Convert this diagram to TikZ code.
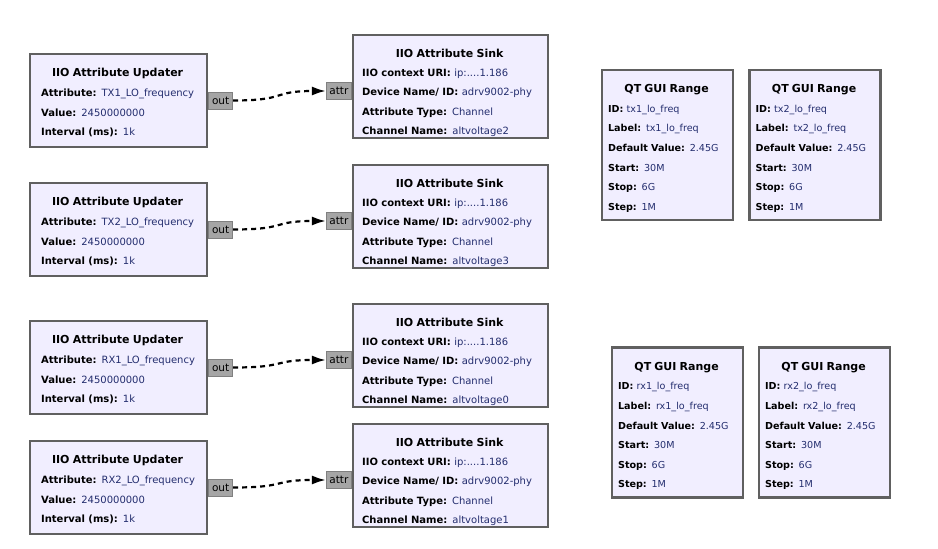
\documentclass[tikz,border=0pt]{standalone}
\usepackage{fontspec}
\setmainfont{DejaVu Sans}
\usetikzlibrary{arrows.meta,positioning}
\definecolor{blockfill}{RGB}{241,238,255}
\definecolor{blockline}{RGB}{96,96,96}
\definecolor{portfill}{RGB}{165,165,165}
\definecolor{portline}{RGB}{128,128,128}
\definecolor{valblue}{RGB}{35,45,110}
\newcommand{\prm}[2]{\mbox{\textbf{#1:} \textcolor{valblue}{#2}}}
\newcommand{\blocktitle}[1]{{\centering\fontsize{11}{19.6}\selectfont\bfseries #1\par}}

\begin{document}
\begin{tikzpicture}[
  x=1pt, y=-1pt, font=\fontsize{10}{19.6}\selectfont,
  block/.style={draw=blockline, line width=2.2pt, fill=blockfill, inner sep=0pt},
  updater/.style={block, minimum width=177pt, minimum height=93pt},
  sink/.style={block, minimum width=195pt, minimum height=103pt},
  qtrange/.style={block, minimum width=131pt, minimum height=150pt},
  body/.style={inner sep=0pt, align=left},
  port/.style={draw=portline, fill=portfill, line width=1pt, inner sep=0pt,
    minimum height=17pt, font=\fontsize{10.5}{12}\selectfont},
  link/.style={-{Latex[length=14pt,width=9pt]}, line width=2.2pt,
    dash pattern=on 5pt off 4pt}]
\useasboundingbox (0,0) rectangle (938,549);
% attribute updaters
\node[updater] (upd1) at (118.5,100.5) {};
\node[body, text width=153pt, below right=15.5pt and 12pt of upd1.north west] (upd1t)
  {\blocktitle{IIO Attribute Updater}\prm{Attribute}{TX1\_LO\_frequency}\\
   \prm{Value}{2450000000}\\ \prm{Interval (ms)}{1k}};
\node[updater] (upd2) at (118.5,229.5) {};
\node[body, text width=153pt, below right=15.5pt and 12pt of upd2.north west] (upd2t)
  {\blocktitle{IIO Attribute Updater}\prm{Attribute}{TX2\_LO\_frequency}\\
   \prm{Value}{2450000000}\\ \prm{Interval (ms)}{1k}};
\node[updater] (upd3) at (118.5,367.5) {};
\node[body, text width=153pt, below right=15.5pt and 12pt of upd3.north west] (upd3t)
  {\blocktitle{IIO Attribute Updater}\prm{Attribute}{RX1\_LO\_frequency}\\
   \prm{Value}{2450000000}\\ \prm{Interval (ms)}{1k}};
\node[updater] (upd4) at (118.5,487.5) {};
\node[body, text width=153pt, below right=15.5pt and 12pt of upd4.north west] (upd4t)
  {\blocktitle{IIO Attribute Updater}\prm{Attribute}{RX2\_LO\_frequency}\\
   \prm{Value}{2450000000}\\ \prm{Interval (ms)}{1k}};
% attribute sinks
\node[sink] (snk1) at (450.5,86.5) {};
\node[body, text width=175pt, font=\fontsize{10}{19.2}\selectfont,
  below right=15pt and 10pt of snk1.north west] (snk1t)
  {\blocktitle{IIO Attribute Sink}\prm{IIO context URI}{ip:....1.186}\\
   \prm{Device Name/ ID}{adrv9002-phy}\\ \prm{Attribute Type}{Channel}\\
   \prm{Channel Name}{altvoltage2}};
\node[sink] (snk2) at (450.5,216.5) {};
\node[body, text width=175pt, font=\fontsize{10}{19.2}\selectfont,
  below right=15pt and 10pt of snk2.north west] (snk2t)
  {\blocktitle{IIO Attribute Sink}\prm{IIO context URI}{ip:....1.186}\\
   \prm{Device Name/ ID}{adrv9002-phy}\\ \prm{Attribute Type}{Channel}\\
   \prm{Channel Name}{altvoltage3}};
\node[sink] (snk3) at (450.5,355.5) {};
\node[body, text width=175pt, font=\fontsize{10}{19.2}\selectfont,
  below right=15pt and 10pt of snk3.north west] (snk3t)
  {\blocktitle{IIO Attribute Sink}\prm{IIO context URI}{ip:....1.186}\\
   \prm{Device Name/ ID}{adrv9002-phy}\\ \prm{Attribute Type}{Channel}\\
   \prm{Channel Name}{altvoltage0}};
\node[sink] (snk4) at (450.5,475.5) {};
\node[body, text width=175pt, font=\fontsize{10}{19.2}\selectfont,
  below right=15pt and 10pt of snk4.north west] (snk4t)
  {\blocktitle{IIO Attribute Sink}\prm{IIO context URI}{ip:....1.186}\\
   \prm{Device Name/ ID}{adrv9002-phy}\\ \prm{Attribute Type}{Channel}\\
   \prm{Channel Name}{altvoltage1}};
% ports and connections
\foreach \i in {1,...,4} {
  \node[port, minimum width=24pt, right=0pt of upd\i] (out\i) {out};
  \node[port, minimum width=25pt, left=0pt of snk\i.west, yshift=-4.5pt] (attr\i) {attr};
  \draw[link] (out\i.east) .. controls +(55,0) and +(-55,0) .. (attr\i.west);
}
% qt gui ranges
\node[qtrange] (rng1) at (667.5,145) {};
\node[body, text width=117pt, font=\fontsize{9.6}{19.6}\selectfont,
  below right=15.5pt and 7pt of rng1.north west] (rng1t)
  {\blocktitle{QT GUI Range}\prm{ID}{tx1\_lo\_freq}\\ \prm{Label}{tx1\_lo\_freq}\\
   \prm{Default Value}{2.45G}\\ \prm{Start}{30M}\\ \prm{Stop}{6G}\\ \prm{Step}{1M}};
\node[qtrange] (rng2) at (815,145) {};
\node[body, text width=117pt, font=\fontsize{9.6}{19.6}\selectfont,
  below right=15.5pt and 7pt of rng2.north west] (rng2t)
  {\blocktitle{QT GUI Range}\prm{ID}{tx2\_lo\_freq}\\ \prm{Label}{tx2\_lo\_freq}\\
   \prm{Default Value}{2.45G}\\ \prm{Start}{30M}\\ \prm{Stop}{6G}\\ \prm{Step}{1M}};
\node[qtrange] (rng3) at (677.5,422.5) {};
\node[body, text width=117pt, font=\fontsize{9.6}{19.6}\selectfont,
  below right=15.5pt and 7pt of rng3.north west] (rng3t)
  {\blocktitle{QT GUI Range}\prm{ID}{rx1\_lo\_freq}\\ \prm{Label}{rx1\_lo\_freq}\\
   \prm{Default Value}{2.45G}\\ \prm{Start}{30M}\\ \prm{Stop}{6G}\\ \prm{Step}{1M}};
\node[qtrange] (rng4) at (824.5,422.5) {};
\node[body, text width=117pt, font=\fontsize{9.6}{19.6}\selectfont,
  below right=15.5pt and 7pt of rng4.north west] (rng4t)
  {\blocktitle{QT GUI Range}\prm{ID}{rx2\_lo\_freq}\\ \prm{Label}{rx2\_lo\_freq}\\
   \prm{Default Value}{2.45G}\\ \prm{Start}{30M}\\ \prm{Stop}{6G}\\ \prm{Step}{1M}};
\end{tikzpicture}
\end{document}
